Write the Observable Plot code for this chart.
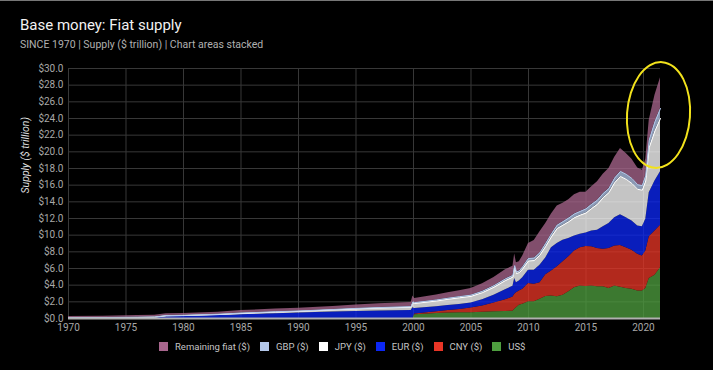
<!DOCTYPE html>
<html>
<head>
<meta charset="utf-8">
<script src="https://cdn.jsdelivr.net/npm/d3@7"></script>
<script src="https://cdn.jsdelivr.net/npm/@observablehq/plot@0.6"></script>
<style>
  html, body { margin: 0; padding: 0; background: #000; }
  body { width: 713px; height: 370px; position: relative; overflow: hidden; font-family: Roboto, "Noto Sans", sans-serif; border-top: 1px solid #777; box-sizing: border-box; }
  #title { position: absolute; left: 20px; top: 15px; font-size: 15px; color: #f2f2f2; white-space: nowrap; }
  #subtitle { position: absolute; left: 20px; top: 37px; font-size: 10.5px; color: #b0b0b0; white-space: nowrap; }
  #chart { position: absolute; left: 0; top: 54px; }
  #legend { position: absolute; left: 159px; top: 340px; display: flex; align-items: center; font-size: 9.5px; color: #c4c4c4; white-space: nowrap; }
  #legend .item { display: flex; align-items: center; margin-right: 10px; }
  #legend .sw { width: 9px; height: 9px; margin-right: 7px; }
  #ring { position: absolute; left: 626px; top: 60px; width: 61px; height: 104px; border: 2.5px solid #f2e21c; border-radius: 50%; transform: rotate(4deg); }
</style>
</head>
<body>
<div id="title">Base money: Fiat supply</div>
<div id="subtitle">SINCE 1970 | Supply ($ trillion) | Chart areas stacked</div>
<div id="chart"></div>
<div id="legend"></div>
<div id="ring"></div>
<script>
const years = [1970,1973,1976,1977.5,1978.5,1980,1983,1985,1988,1990,1993,1995,1997,1999.8,1999.95,2000.1,2002,2003,2004,2005,2006,2007,2008,2008.65,2008.8,2008.95,2009.2,2009.5,2010,2010.5,2011,2011.5,2012,2012.5,2013,2013.5,2014,2014.5,2015,2015.5,2016,2016.5,2017,2017.5,2018,2018.5,2019,2019.5,2019.9,2020.2,2020.5,2021,2021.48];
const usd = [0,0,0,0,0,0,0,0,0,0,0,0,0,0,0,0.45,0.6,0.65,0.68,0.7,0.75,0.8,0.85,0.87,1.1,1.3,1.6,1.7,2.0,2.0,2.3,2.65,2.7,2.6,2.8,3.2,3.7,3.9,3.85,3.9,3.8,3.8,3.6,3.9,3.75,3.6,3.5,3.3,3.3,3.6,4.8,5.2,6.1];
const cny = [0,0,0,0,0,0,0,0,0,0,0,0,0,0,0,0.1,0.2,0.3,0.4,0.55,0.75,1.05,1.4,1.7,1.8,1.8,1.7,1.8,2.2,2.1,2.0,2.6,3.0,3.6,4.0,4.2,4.4,4.6,4.8,4.7,4.6,4.5,4.8,4.8,5.0,4.9,4.7,4.4,4.2,4.5,5.0,5.3,5.1];
const eur = [0.02,0.03,0.04,0.06,0.22,0.25,0.35,0.45,0.58,0.65,0.78,0.85,0.9,0.95,1.3,0.65,0.6,0.6,0.6,0.6,0.75,0.95,1.2,1.3,1.9,1.2,1.2,1.4,1.6,1.7,2.1,2.0,2.8,2.8,2.6,2.2,1.8,1.6,1.6,1.9,2.2,2.7,3.0,3.4,3.7,3.6,3.5,3.4,3.5,3.8,5.3,6.0,6.4];
const jpy = [0.05,0.06,0.08,0.09,0.1,0.1,0.12,0.15,0.18,0.2,0.25,0.3,0.35,0.4,0.6,0.6,0.7,0.75,0.8,0.8,0.85,0.95,1.1,1.1,1.3,1.1,1.0,1.05,1.1,1.15,1.2,1.4,1.3,1.8,1.8,2.0,2.2,2.3,2.4,2.7,3.1,3.5,3.7,4.2,4.6,4.6,4.5,4.4,4.4,4.6,5.4,6.0,6.4];
const gbp = [0.02,0.02,0.03,0.03,0.03,0.03,0.04,0.05,0.05,0.05,0.05,0.06,0.06,0.07,0.1,0.1,0.12,0.13,0.14,0.15,0.16,0.18,0.2,0.2,0.25,0.2,0.2,0.25,0.3,0.3,0.3,0.35,0.35,0.4,0.42,0.45,0.45,0.45,0.5,0.5,0.5,0.5,0.5,0.55,0.6,0.6,0.6,0.55,0.55,0.65,0.9,1.1,1.2];
const remaining = [0.15,0.17,0.2,0.22,0.22,0.22,0.25,0.3,0.32,0.32,0.35,0.4,0.45,0.5,0.7,0.5,0.6,0.65,0.7,0.8,0.9,1.0,1.1,1.1,1.4,1.1,1.1,1.3,1.8,2.1,2.5,2.4,2.4,2.3,2.2,2.2,2.3,2.3,2.0,2.1,2.2,2.3,2.4,2.5,2.75,2.5,2.3,2.0,1.85,1.95,2.4,3.2,3.7];

// stack order, bottom to top
const seriesNames = ["US$", "CNY ($)", "EUR ($)", "JPY ($)", "GBP ($)", "Remaining fiat ($)"];
const seriesValues = [usd, cny, eur, jpy, gbp, remaining];
const legendOrder = ["Remaining fiat ($)", "GBP ($)", "JPY ($)", "EUR ($)", "CNY ($)", "US$"];
const outlinedSeries = ["JPY ($)", "GBP ($)"];
const xTicks = [1970,1975,1980,1985,1990,1995,2000,2005,2010,2015,2020];
const yTicks = [0,2,4,6,8,10,12,14,16,18,20,22,24,26,28,30];
const yTitle = "Supply ($ trillion)";

const palette = {"US$": "#4e9e3f", "CNY ($)": "#e83526", "EUR ($)": "#0c27f4", "JPY ($)": "#ffffff", "GBP ($)": "#b3c7ea", "Remaining fiat ($)": "#a8668d"};

const long = [];
seriesNames.forEach((s, k) => years.forEach((yr, i) => long.push({year: yr, series: s, value: seriesValues[k][i]})));

const chart = Plot.plot({
  width: 713,
  height: 283,
  marginTop: 13,
  marginBottom: 20,
  marginLeft: 68,
  marginRight: 53,
  style: {background: "transparent", color: "#a8a8a8", fontFamily: "Roboto, sans-serif", fontSize: "10px"},
  x: {domain: [1970, 2021.48], ticks: xTicks, tickFormat: d => String(d), tickSize: 0, tickPadding: 5, label: null},
  y: {domain: [0, 30], ticks: yTicks, tickFormat: d => "$" + d.toFixed(1), tickSize: 0, tickPadding: 5, label: null},
  color: {domain: seriesNames, range: seriesNames.map(s => palette[s])},
  marks: [
    Plot.ruleY(yTicks, {stroke: "#383838"}),
    Plot.ruleX(xTicks, {stroke: "#383838"}),
    Plot.areaY(long, {x: "year", y: "value", fill: "series", order: seriesNames, fillOpacity: 0.77}),
    Plot.lineY(long, Plot.stackY2({x: "year", y: "value", z: "series", stroke: "series", order: seriesNames, strokeWidth: 1,
      strokeOpacity: d => outlinedSeries.includes(d.series) ? 1 : 0})),
    Plot.ruleY([0], {stroke: "#b0b0b0", strokeWidth: 2}),
    Plot.text([yTitle], {frameAnchor: "left", rotate: -90, dx: -43, fill: "#dcdcdc", fontStyle: "italic", fontSize: 10.5})
  ]
});
document.getElementById("chart").appendChild(chart);

const legend = document.getElementById("legend");
legendOrder.forEach(s => {
  const it = document.createElement("div");
  it.className = "item";
  const sw = document.createElement("span");
  sw.className = "sw";
  sw.style.background = palette[s];
  const tx = document.createElement("span");
  tx.textContent = s;
  it.appendChild(sw); it.appendChild(tx);
  legend.appendChild(it);
});
</script>
</body>
</html>
